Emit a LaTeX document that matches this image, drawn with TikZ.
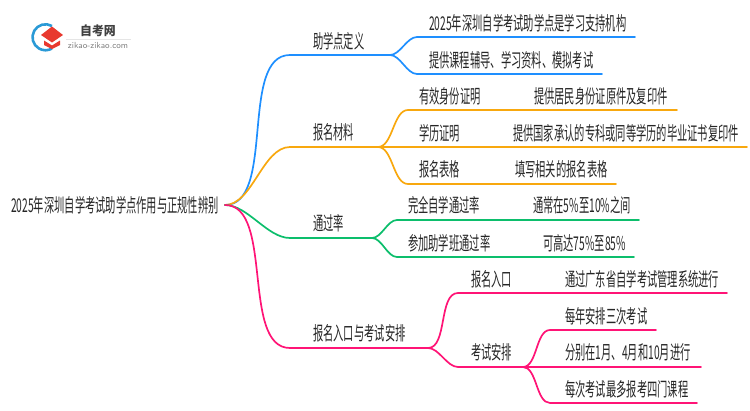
\documentclass[tikz,border=0pt]{standalone}
\usepackage{fontspec}
\usepackage{tikz}
\usetikzlibrary{arrows.meta, positioning}
\newfontfamily\cjk[FakeStretch=0.54]{Noto Sans CJK SC}
\newfontfamily\cjklogo[FakeStretch=0.95]{Noto Sans CJK SC}
\definecolor{blueline}{HTML}{1E8FFF}
\definecolor{orangeline}{HTML}{F8A80E}
\definecolor{greenline}{HTML}{0CBE6C}
\definecolor{pinkline}{HTML}{FF1476}
\definecolor{logoblue}{HTML}{2A9AD6}
\definecolor{logored}{HTML}{E8392F}
\tikzset{
    label/.style={anchor=west, inner sep=0pt, text=black!85, font=\cjk\fontsize{19}{22}\selectfont},
    link/.style={line width=1.7pt, line cap=round, out=0, in=180, looseness=0.8}
}
\begin{document}
\begin{tikzpicture}[x=1pt, y=-1pt]
    \useasboundingbox (0,0) rectangle (750,410);

    % logo
    \draw[logoblue, line width=2.6pt] (52,26) arc[start angle=-60, end angle=-300, radius=13];
    \fill[logored] (41,35) -- (52,26.5) -- (63,35) -- (52,42.5) -- cycle;
    \fill[logored] (44,40.5) -- (52,45.5) -- (60,40.5) -- (60,45) -- (52,49) -- (44,45) -- cycle;
    \node[anchor=center, inner sep=0pt, text=black!75, font=\cjklogo\bfseries\fontsize{12.5}{14}\selectfont] (logotitle) at (98,31) {自考网};
    \node[anchor=center, inner sep=0pt, text=black!50, font=\sffamily\fontsize{8.8}{10}\selectfont] (logourl) at (98,45) {zikao-zikao.com};
    \draw[black!10, line width=0.6pt] (66,39) -- (131,39);

    % root
    \node[label] (root) at (11,205) {2025年深圳自学考试助学点作用与正规性辨别};
    \coordinate (hub) at (225,205);

    % first branch
    \coordinate (defa) at (290,55);
    \coordinate (defb) at (390,55);
    \coordinate (defc) at (417,37);
    \coordinate (defd) at (635,37);
    \coordinate (defe) at (417,74);
    \coordinate (deff) at (602,74);
    \node[label] (def) at (313,41) {助学点定义};
    \node[label] (defone) at (429,23) {2025年深圳自学考试助学点是学习支持机构};
    \node[label] (deftwo) at (429,60) {提供课程辅导、学习资料、模拟考试};
    \draw[link, blueline] (hub) to (defa) -- (defb);
    \draw[link, blueline] (defb) to (defc) -- (defd);
    \draw[link, blueline] (defb) to (defe) -- (deff);

    % second branch
    \coordinate (mata) at (290,147);
    \coordinate (matb) at (378,147);
    \coordinate (matc) at (408,110);
    \coordinate (matd) at (677,110);
    \coordinate (mate) at (747,147);
    \coordinate (matf) at (408,184);
    \coordinate (matg) at (616,184);
    \node[label] (mat) at (313,132) {报名材料};
    \node[label] (idcard) at (419,96) {有效身份证明};
    \node[label] (idtext) at (534,96) {提供居民身份证原件及复印件};
    \node[label] (degree) at (419,133) {学历证明};
    \node[label] (degtext) at (513,133) {提供国家承认的专科或同等学历的毕业证书复印件};
    \node[label] (form) at (419,169) {报名表格};
    \node[label] (formtext) at (515,169) {填写相关的报名表格};
    \draw[link, orangeline] (hub) to (mata) -- (matb);
    \draw[link, orangeline] (matb) to (matc) -- (matd);
    \draw[link, orangeline] (matb) -- (mate);
    \draw[link, orangeline] (matb) to (matf) -- (matg);

    % third branch
    \coordinate (pasa) at (290,238);
    \coordinate (pasb) at (372,238);
    \coordinate (pasc) at (397,220);
    \coordinate (pasd) at (639,220);
    \coordinate (pase) at (397,257);
    \coordinate (pasf) at (634,257);
    \node[label] (pas) at (313,223) {通过率};
    \node[label] (self) at (408,205) {完全自学通过率};
    \node[label] (selftext) at (533,205) {通常在5\%至10\%之间};
    \node[label] (aid) at (408,243) {参加助学班通过率};
    \node[label] (aidtext) at (543,243) {可高达75\%至85\%};
    \draw[link, greenline] (hub) to (pasa) -- (pasb);
    \draw[link, greenline] (pasb) to (pasc) -- (pasd);
    \draw[link, greenline] (pasb) to (pase) -- (pasf);

    % fourth branch
    \coordinate (enta) at (290,348);
    \coordinate (entb) at (428,348);
    \coordinate (entc) at (458,293);
    \coordinate (entd) at (727,293);
    \coordinate (ente) at (458,367);
    \coordinate (entf) at (523,367);
    \coordinate (entg) at (550,330);
    \coordinate (enth) at (656,330);
    \coordinate (enti) at (701,367);
    \coordinate (entj) at (550,403);
    \coordinate (entk) at (697,403);
    \node[label] (ent) at (313,333) {报名入口与考试安排};
    \node[label] (entry) at (471,279) {报名入口};
    \node[label] (entrytext) at (565,279) {通过广东省自学考试管理系统进行};
    \node[label] (exam) at (471,352) {考试安排};
    \node[label] (examone) at (565,316) {每年安排三次考试};
    \node[label] (examtwo) at (565,352) {分别在1月、4月和10月进行};
    \node[label] (examthree) at (565,389) {每次考试最多报考四门课程};
    \draw[link, pinkline] (hub) to (enta) -- (entb);
    \draw[link, pinkline] (entb) to (entc) -- (entd);
    \draw[link, pinkline] (entb) to (ente) -- (entf);
    \draw[link, pinkline] (entf) to (entg) -- (enth);
    \draw[link, pinkline] (entf) -- (enti);
    \draw[link, pinkline] (entf) to (entj) -- (entk);
\end{tikzpicture}
\end{document}
